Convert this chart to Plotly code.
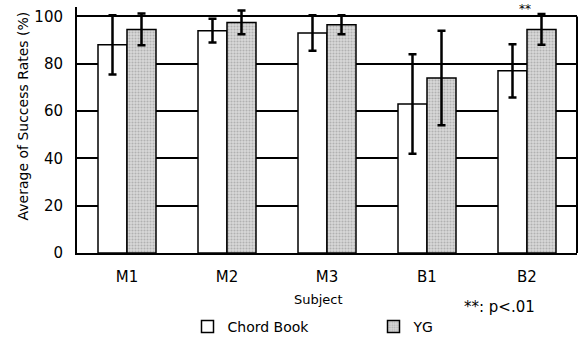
import plotly.graph_objects as go

subjects = ["M1", "M2", "M3", "B1", "B2"]
chord_book = [88, 94, 93, 63, 77]
chord_err = [12.5, 5, 7.5, 21, 11.3]
yg = [94.5, 97.5, 96.5, 74, 94.5]
yg_err = [6.7, 5, 4, 20, 6.5]

font = "DejaVu Sans"

fig = go.Figure()
fig.add_trace(go.Bar(
    x=subjects, y=chord_book, name="Chord Book",
    marker=dict(color="white", line=dict(color="black", width=1.5)),
    error_y=dict(type="data", array=chord_err, color="black", thickness=2.5, width=4),
))
fig.add_trace(go.Bar(
    x=subjects, y=yg, name="YG",
    marker=dict(color="#cccccc", line=dict(color="black", width=1.5),
                pattern=dict(shape=".", bgcolor="#d9d9d9", fgcolor="#8a8a8a", size=3, solidity=0.4)),
    error_y=dict(type="data", array=yg_err, color="black", thickness=2.5, width=4),
))

fig.update_layout(
    width=579, height=338,
    margin=dict(l=77, r=2, t=7, b=85, autoexpand=False),
    paper_bgcolor="white", plot_bgcolor="white",
    barmode="group", bargap=0.42, bargroupgap=0,
    font=dict(family=font, size=12, color="black"),
    showlegend=True,
    legend=dict(orientation="h", x=0.221, y=-0.300, xanchor="left", yanchor="middle",
                entrywidth=141, entrywidthmode="pixels",
                font=dict(size=14), itemwidth=30, bgcolor="rgba(0,0,0,0)"),
    shapes=[
        dict(type="line", xref="paper", yref="y", x0=1, x1=1, y0=0, y1=100,
             line=dict(color="black", width=2)),
    ],
    annotations=[
        dict(text="Average of Success Rates (%)", xref="paper", yref="paper",
             x=-0.108, y=0.555, xanchor="center", yanchor="middle", textangle=-90,
             showarrow=False, font=dict(size=14)),
        dict(text="Subject", xref="paper", yref="paper", x=0.482, y=-0.187, xanchor="center",
             yanchor="middle", showarrow=False, font=dict(size=13)),
        dict(text="**: p<.01", xref="paper", yref="paper", x=0.77, y=-0.22, xanchor="left",
             yanchor="middle", showarrow=False, font=dict(size=15)),
        dict(text="**", xref="paper", yref="paper", x=0.895, y=1.03, xanchor="center",
             yanchor="top", showarrow=False, font=dict(size=12)),
    ],
)
fig.update_xaxes(showline=True, linecolor="black", linewidth=2, mirror=False,
                 ticks="", tickfont=dict(size=15), showgrid=False, ticklabelstandoff=9,
                 automargin=False)
fig.update_yaxes(range=[0, 104], tickvals=[0, 20, 40, 60, 80, 100], showline=True,
                 linecolor="black", linewidth=2, mirror=False, showgrid=True,
                 gridcolor="black", gridwidth=2, automargin=False,
                 ticks="", tickfont=dict(size=15), zeroline=False, ticklabelstandoff=9)

fig.write_html("out.html", config={"displayModeBar": False},
               post_script="document.body.style.margin='0';document.body.style.overflow='hidden';")
